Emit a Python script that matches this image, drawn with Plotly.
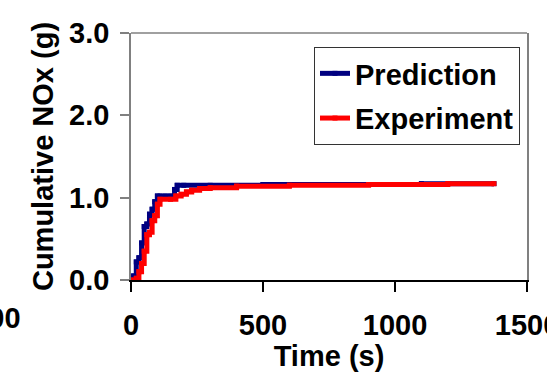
import plotly.graph_objects as go

# Cumulative NOx over the drive cycle (step-wise accumulation)
pred_time = [0, 10, 20, 30, 40, 50, 60, 70, 80, 90, 100, 110, 130, 150, 165, 175, 200, 300, 500, 800, 1100, 1375]
pred_nox = [0, 0.05, 0.22, 0.27, 0.45, 0.65, 0.68, 0.80, 0.86, 0.95, 1.02, 1.02, 1.02, 1.02, 1.10, 1.15,
            1.15, 1.15, 1.16, 1.16, 1.17, 1.17]

exp_time = [0, 20, 30, 40, 50, 60, 70, 80, 90, 100, 110, 150, 170, 190, 210, 230, 260, 300, 400, 600,
            900, 1200, 1375]
exp_nox = [0, 0.02, 0.10, 0.20, 0.35, 0.55, 0.58, 0.72, 0.78, 0.92, 0.98, 0.98, 1.02, 1.04, 1.07, 1.09,
           1.11, 1.12, 1.14, 1.15, 1.16, 1.17, 1.17]

x_ticks = [0, 500, 1000, 1500]
y_ticks = [0.0, 1.0, 2.0, 3.0]

FONT = "Liberation Sans, Arial, sans-serif"
FS = 29
W, H = 547, 372
L, R, T, B = 131, 20, 33, 92
pw, ph = W - L - R, H - T - B

fig = go.Figure()
fig.add_trace(go.Scatter(
    x=pred_time, y=pred_nox, name="Prediction", mode="lines+markers",
    line=dict(color="#000080", width=5, shape="hv"),
    marker=dict(symbol="square", size=5, color="#000080"),
    legendgroup="p",
))
fig.add_trace(go.Scatter(
    x=exp_time, y=exp_nox, name="Experiment", mode="lines+markers",
    line=dict(color="#FF0000", width=5, shape="hv"),
    marker=dict(symbol="square", size=5, color="#FF0000"),
    legendgroup="e",
))

# Top border of the plot frame
fig.add_shape(type="line", xref="paper", yref="paper", x0=0, x1=1, y0=1, y1=1,
              line=dict(color="#808080", width=1.5))

# Partially visible tick label from the neighbouring panel
fig.add_annotation(text="<b>1500</b>", xref="paper", yref="paper",
                   x=(23 - L) / pw, y=(H - B - 318) / ph, xanchor="right", yanchor="middle",
                   showarrow=False, font=dict(family=FONT, size=FS, color="black"))

fig.update_layout(
    width=W, height=H,
    margin=dict(l=L, r=R, t=T, b=B),
    paper_bgcolor="white", plot_bgcolor="white",
    font=dict(family=FONT, size=FS, color="black", weight="bold"),
    showlegend=True,
    legend=dict(
        x=(314 - L) / pw, y=(H - B - 47) / ph, xanchor="left", yanchor="top",
        bordercolor="#333333", borderwidth=1, bgcolor="white",
        font=dict(family=FONT, size=FS, color="black", weight="bold"),
        tracegroupgap=4, itemwidth=30,
    ),
    xaxis=dict(
        range=[0, 1500], tickvals=x_ticks, ticktext=[str(v) for v in x_ticks],
        showgrid=False, zeroline=False, automargin=False,
        showline=True, linecolor="black", linewidth=1.5,
        ticks="outside", ticklen=10, tickcolor="black", tickwidth=1.5,
        ticklabelstandoff=8, ticklabeloverflow="allow",
        title=dict(text="Time (s)", standoff=6, font=dict(family=FONT, size=FS, weight="bold")),
    ),
    yaxis=dict(
        range=[0, 3], tickvals=y_ticks, ticktext=[f"{v:.1f}" for v in y_ticks],
        showgrid=False, zeroline=False, automargin=False,
        showline=True, linecolor="#808080", linewidth=1.5, mirror=True,
        ticks="outside", ticklen=9, tickcolor="#808080", tickwidth=1.5,
        ticklabelstandoff=5,
        title=dict(text="Cumulative NOx (g)", standoff=7, font=dict(family=FONT, size=FS, weight="bold")),
    ),
)

fig.write_html("out.html")
